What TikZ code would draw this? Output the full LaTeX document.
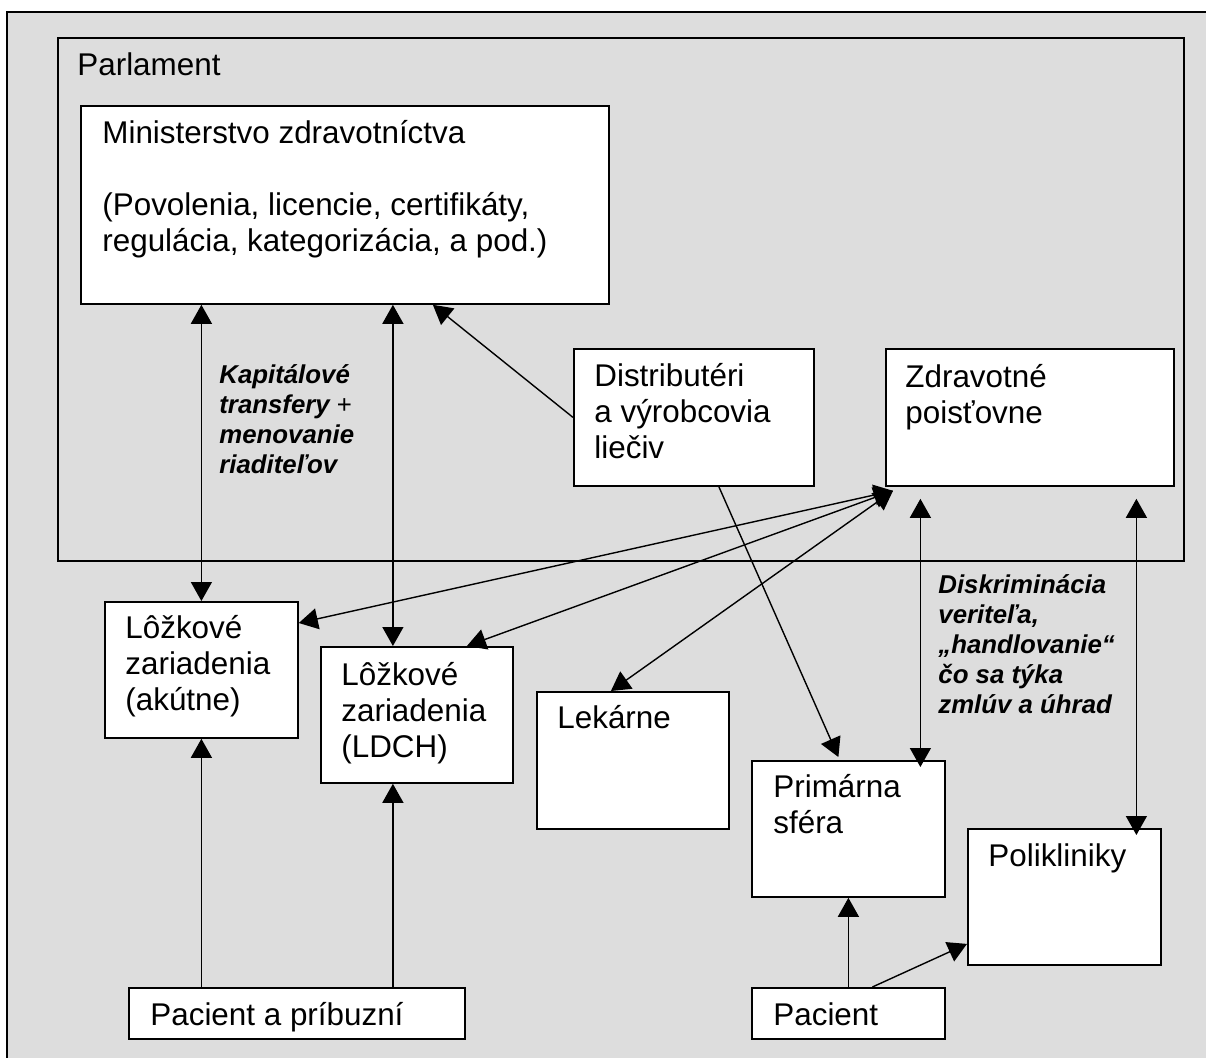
\documentclass[tikz,border=0pt]{standalone}
\usepackage{fontspec}
\setmainfont{Liberation Sans}
\usetikzlibrary{arrows.meta}
\definecolor{bggray}{RGB}{221,221,221}

\begin{document}
\begin{tikzpicture}[x=0.5pt,y=-0.5pt,
	box/.style={draw,rectangle,line width=0.9pt,fill=white,inner sep=0pt,anchor=north west},
	txt/.style={inner sep=0pt,anchor=base west,align=left,font=\fontsize{15.7}{18}\selectfont},
	note/.style={inner sep=0pt,anchor=base west,align=left,font=\fontsize{12.9}{15}\selectfont\bfseries\itshape},
	conn/.style={line width=0.7pt,-{Triangle[length=9.5pt,width=10.5pt]}},
	both/.style={line width=0.7pt,{Triangle[length=9.5pt,width=10.5pt]}-{Triangle[length=9.5pt,width=10.5pt]}}]
			\useasboundingbox (0,0) rectangle (1206,1057);
			\clip (0,0) rectangle (1206,1057);
			\draw[line width=0.7pt,fill=bggray] (7,12) rectangle (1240,1080);
			% boxes
			\node[box,fill=bggray,line width=1pt,minimum width=563pt,minimum height=261.5pt] (parl) at (57,37) {};
			\node[box,minimum width=264pt,minimum height=99pt] (mz) at (80,105) {};
			\node[box,minimum width=120pt,minimum height=68.5pt] (dist) at (573,348) {};
			\node[box,minimum width=144pt,minimum height=68.5pt] (zp) at (885,348) {};
			\node[box,minimum width=96.5pt,minimum height=68pt] (akut) at (104,601) {};
			\node[box,minimum width=96pt,minimum height=68pt] (ldch) at (320,646) {};
			\node[box,minimum width=96pt,minimum height=68.5pt] (lek) at (536,691) {};
			\node[box,minimum width=96.5pt,minimum height=68pt] (prim) at (751,760) {};
			\node[box,minimum width=96.5pt,minimum height=68pt] (poli) at (967,828) {};
			\node[box,minimum width=168pt,minimum height=25.5pt] (pac1) at (128,987) {};
			\node[box,minimum width=96.5pt,minimum height=25.5pt] (pac2) at (751,987) {};
			% texts (base = baseline of the last line)
			\node[txt] (parlt) at (77,75) {Parlament};
			\node[txt] (mzt) at (102,251) {Ministerstvo zdravotníctva\\[18pt](Povolenia, licencie, certifikáty,\\regulácia, kategorizácia, a pod.)};
			\node[txt] (distt) at (594,458) {Distributéri\\a výrobcovia\\liečiv};
			\node[txt] (zpt) at (905,423) {Zdravotné\\poisťovne};
			\node[txt] (akutt) at (125,710) {Lôžkové\\zariadenia\\(akútne)};
			\node[txt] (ldcht) at (341,757) {Lôžkové\\zariadenia\\(LDCH)};
			\node[txt] (lekt) at (557,728) {Lekárne};
			\node[txt] (primt) at (773,833) {Primárna\\sféra};
			\node[txt] (polit) at (988,866) {Polikliniky};
			\node[txt] (pac1t) at (150,1025) {Pacient a príbuzní};
			\node[txt] (pac2t) at (773,1025) {Pacient};
			\node[note] (kap) at (219,473) {Kapitálové\\transfery {\mdseries\upshape +}\\menovanie\\riaditeľov};
			\node[note] (disk) at (938,713) {Diskriminácia\\veriteľa,\\„handlovanie“\\čo sa týka\\zmlúv a úhrad};
			% connectors
			\coordinate (zc) at ([shift={(4pt,-2pt)}]zp.south west);
			\draw[both] (akut.north) -- (akut.north |- mz.south);
			\draw[both] ([xshift=-12pt]ldch.north) -- ([xshift=-12pt]ldch.north |- mz.south);
			\draw[conn] (dist.west) -- ([xshift=44pt]mz.south);
			\draw[conn] ([xshift=12.5pt]dist.south) -- ([shift={(-5pt,1.5pt)}]prim.north);
			\draw[both] (zc) -- ([yshift=-11pt]akut.north east);
			\draw[both] (zc) -- ([xshift=25pt]ldch.north);
			\draw[both] (zc) -- ([xshift=-11pt]lek.north);
			\draw[both] ([shift={(36pt,-6pt)}]prim.north |- zp.south) -- ([shift={(36pt,-3.5pt)}]prim.north);
			\draw[both] ([shift={(36pt,-6pt)}]poli.north |- zp.south) -- ([shift={(36pt,-3.5pt)}]poli.north);
			\draw[conn] (akut.south |- pac1.north) -- (akut.south);
			\draw[conn] ([xshift=-12pt]ldch.south |- pac1.north) -- ([xshift=-12pt]ldch.south);
			\draw[conn] (pac2.north) -- (prim.south);
			\draw[conn] ([xshift=12pt]pac2.north) -- ([yshift=-23.5pt]poli.west);
		\end{tikzpicture}
\end{document}
